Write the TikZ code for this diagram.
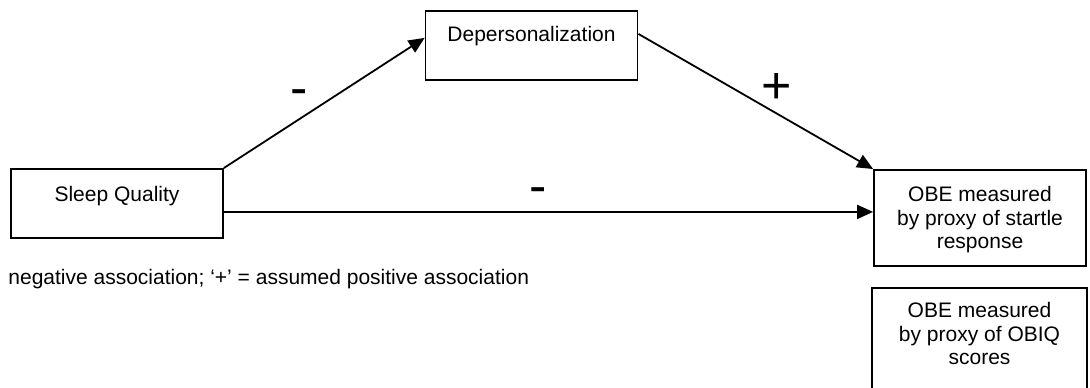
\documentclass[tikz,border=0pt]{standalone}
\usepackage{fontspec}
\setmainfont{Liberation Sans}
\usetikzlibrary{arrows.meta}
\newcommand{\boxFont}[0]{\fontsize{10.5}{11.75}\selectfont}
\newcommand{\signFont}[0]{\fontsize{26}{26}\selectfont}
\newcommand{\boxLine}[0]{0.9pt}

\begin{document}
\begin{tikzpicture}[x=0.5pt, y=-0.5pt]
  \tikzset{every node/.style={font=\boxFont},
    var/.style={draw, line width=\boxLine, anchor=north, align=center, inner sep=0pt, minimum width=106pt},
    effect/.style={line width=\boxLine, -{Triangle[length=8pt,width=7pt]}},
    sign/.style={font=\signFont, anchor=base, inner sep=0pt}}
  \useasboundingbox (0,0) rectangle (1090,387);
  \node[var, text height=16.5pt, text depth=18pt] (SQ) at (117,168) {Sleep Quality};
  \node[var, text height=15.5pt, text depth=19pt] (DP) at (531.5,10) {Depersonalization};
  \node[var, text height=39.5pt, text depth=8.5pt] (OBE-1) at (980,169) {OBE measured\\by proxy of startle\\response};
  \node[var, text height=38.5pt, text depth=31.5pt, minimum width=107.5pt] (OBE-2) at (979.5,287) {OBE measured\\by proxy of OBIQ\\scores};
  \node[anchor=base west, inner sep=0pt] (note) at (8,284) {negative association; ‘+’ = assumed positive association};
  \coordinate (OBE-1-in) at ([yshift=3pt]OBE-1.west);
  \draw[effect] (SQ.north east) -- ([yshift=3.75pt]DP.west);
  \draw[effect] ([yshift=5.75pt]DP.east) -- (OBE-1.north west);
  \draw[effect] (SQ.east |- OBE-1-in) -- (OBE-1-in);
  \node[sign] (sign-1) at (299,105.5) {-};
  \node[sign] (sign-2) at (777,103.5) {+};
  \node[sign] (sign-3) at (538,203.5) {-};
\end{tikzpicture}
\end{document}
